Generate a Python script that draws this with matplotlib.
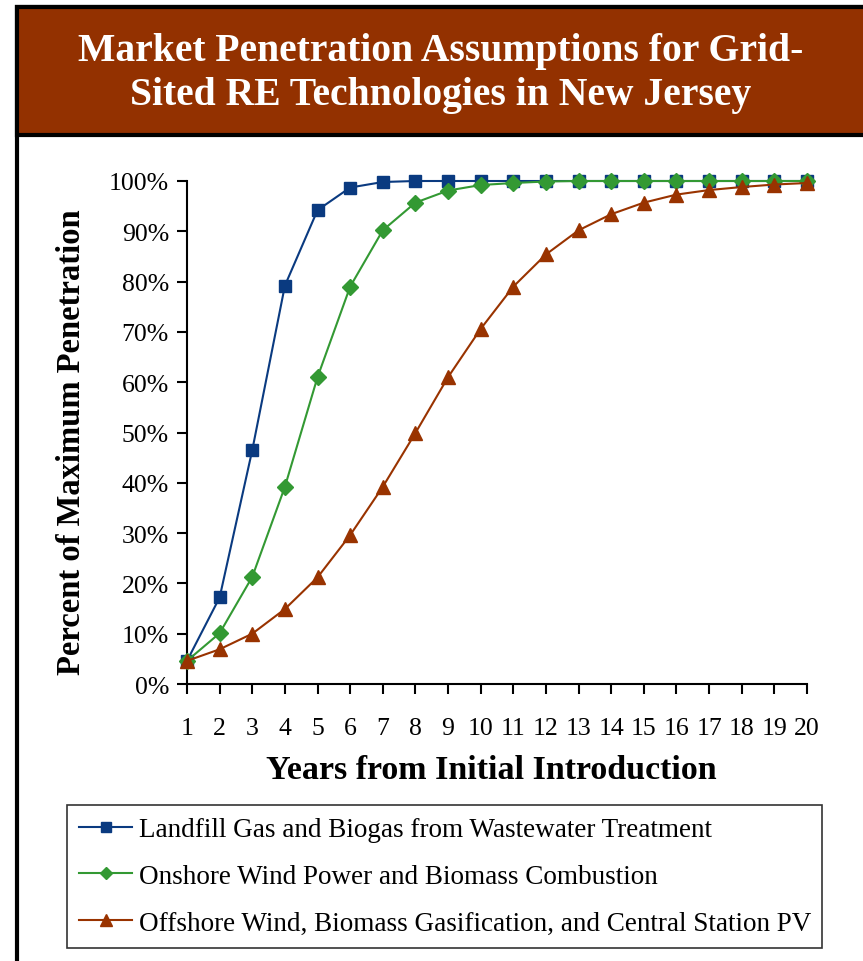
import matplotlib.pyplot as plt
from matplotlib.patches import Rectangle
from matplotlib.ticker import PercentFormatter
from matplotlib.lines import Line2D

years = list(range(1, 21))

landfill = [0.046, 0.172, 0.465, 0.792, 0.942, 0.987, 0.998, 1.0, 1.0, 1.0,
            1.0, 1.0, 1.0, 1.0, 1.0, 1.0, 1.0, 1.0, 1.0, 1.0]
onshore = [0.046, 0.101, 0.213, 0.392, 0.610, 0.790, 0.902, 0.957, 0.981, 0.992,
           0.996, 0.999, 1.0, 1.0, 1.0, 1.0, 1.0, 1.0, 1.0, 1.0]
offshore = [0.046, 0.069, 0.100, 0.149, 0.212, 0.296, 0.392, 0.499, 0.610, 0.706,
            0.790, 0.854, 0.902, 0.934, 0.957, 0.973, 0.982, 0.988, 0.993, 0.996]

labels = ['Landfill Gas and Biogas from Wastewater Treatment',
          'Onshore Wind Power and Biomass Combustion',
          'Offshore Wind, Biomass Gasification, and Central Station PV']

blue = '#0a3a80'
green = '#339933'
brown = '#993300'
title_bg = '#933100'

plt.rcParams['font.family'] = ['Liberation Serif', 'DejaVu Serif']

W, H = 863, 962
fig = plt.figure(figsize=(W / 100, H / 100), dpi=100)


def fx(px):
    return px / W


def fy(py):
    return 1 - py / H


# outer frame and title box
fig.patches.append(Rectangle((fx(17), fy(1000)), 1.2, fy(8) - fy(1000),
                             transform=fig.transFigure, facecolor='none',
                             edgecolor='black', linewidth=3, zorder=-2))
fig.patches.append(Rectangle((fx(17), fy(136)), 1.2, fy(8) - fy(136),
                             transform=fig.transFigure, facecolor=title_bg,
                             edgecolor='black', linewidth=3, zorder=-1))
fig.text(fx(441), fy(52), 'Market Penetration Assumptions for Grid-',
         color='white', fontsize=28.5, fontweight='bold', ha='center', va='center')
fig.text(fx(441), fy(95), 'Sited RE Technologies in New Jersey',
         color='white', fontsize=28.5, fontweight='bold', ha='center', va='center')

ax = fig.add_axes([fx(187), fy(685), fx(807) - fx(187), fy(182) - fy(685)])

ax.plot(years, landfill, color=blue, marker='s', markersize=9, linewidth=1.5,
        label=labels[0], zorder=3, clip_on=False)
ax.plot(years, onshore, color=green, marker='D', markersize=8, linewidth=1.5,
        label=labels[1], zorder=4, clip_on=False)
ax.plot(years, offshore, color=brown, marker='^', markersize=10, linewidth=1.5,
        label=labels[2], zorder=5, clip_on=False)

ax.set_xlim(1, 20)
ax.set_ylim(0, 1)
ax.set_xticks(years)
ax.set_yticks([i / 10 for i in range(11)])
ax.yaxis.set_major_formatter(PercentFormatter(1.0, decimals=0))
ax.tick_params(axis='both', direction='out', length=7, width=1.5,
               labelsize=18.5)
ax.tick_params(axis='x', pad=17)
ax.tick_params(axis='y', pad=6)
for side in ['top', 'right']:
    ax.spines[side].set_visible(False)
for side in ['left', 'bottom']:
    ax.spines[side].set_linewidth(1.5)

fig.text(fx(491), fy(771), 'Years from Initial Introduction',
         fontsize=24.5, fontweight='bold', ha='center', va='center')
fig.text(fx(72), fy(442), 'Percent of Maximum Penetration',
         fontsize=23.5, fontweight='bold', ha='center', va='center',
         rotation=90)

handles = [Line2D([], [], color=blue, marker='s', markersize=7, linewidth=1.5),
           Line2D([], [], color=green, marker='D', markersize=6, linewidth=1.5),
           Line2D([], [], color=brown, marker='^', markersize=8, linewidth=1.5)]
leg = fig.legend(handles, labels, loc='upper left',
                 bbox_to_anchor=(fx(67), fy(942), fx(822) - fx(67), fy(806) - fy(942)),
                 mode='expand', fontsize=19.5, frameon=True, fancybox=False,
                 edgecolor='black', handlelength=1.95, handletextpad=0.25,
                 labelspacing=0.8, borderpad=0.45, borderaxespad=0)
leg.get_frame().set_linewidth(1.2)

fig.savefig('out.png', dpi=100)
